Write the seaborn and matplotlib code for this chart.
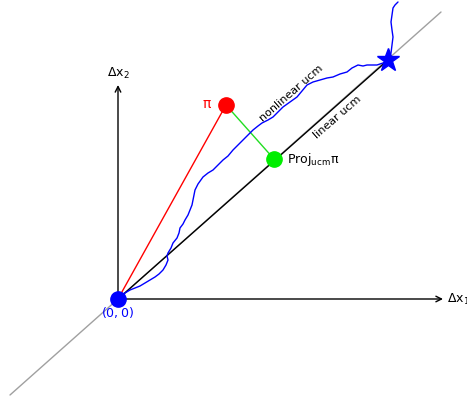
import matplotlib
matplotlib.use("Agg")
import matplotlib.pyplot as plt
import seaborn as sns
import pandas as pd

sns.set_style("white")
plt.rcParams['font.family'] = ['DejaVu Sans']
plt.rcParams['text.color'] = 'black'

# ---- data ----
origin = [0.0, 0.0]
pi_point = [1.08, 1.94]
proj_point = [1.56, 1.40]
star_point = [2.70, 2.39]
ucm_line_x = [-1.08, 3.23]
ucm_line_y = [-0.96, 2.87]

walk_x = [0, 0.04, 0.07, 0.12, 0.17, 0.22, 0.27, 0.32, 0.37, 0.41, 0.45, 0.48, 0.50, 0.49, 0.50,
          0.53, 0.55, 0.59, 0.61, 0.62, 0.65, 0.67, 0.70, 0.72, 0.74, 0.75, 0.76, 0.77, 0.80, 0.85,
          0.90, 0.95, 1.00, 1.05, 1.10, 1.15, 1.20, 1.25, 1.30, 1.35, 1.40, 1.44, 1.50, 1.55, 1.60,
          1.65, 1.72, 1.79, 1.84, 1.89, 1.95, 2.02, 2.09, 2.15, 2.22, 2.29, 2.34, 2.40, 2.45, 2.49,
          2.54, 2.59, 2.65, 2.70, 2.73, 2.74, 2.75, 2.74, 2.73, 2.74, 2.75, 2.77, 2.80]
walk_y = [0, 0.04, 0.06, 0.09, 0.11, 0.13, 0.16, 0.19, 0.22, 0.25, 0.29, 0.34, 0.39, 0.43, 0.46,
          0.51, 0.56, 0.61, 0.66, 0.71, 0.75, 0.79, 0.84, 0.89, 0.94, 0.99, 1.04, 1.09, 1.15, 1.22,
          1.26, 1.29, 1.34, 1.39, 1.43, 1.49, 1.54, 1.59, 1.64, 1.69, 1.73, 1.76, 1.79, 1.82, 1.87,
          1.92, 1.97, 2.02, 2.08, 2.14, 2.17, 2.19, 2.21, 2.22, 2.25, 2.27, 2.31, 2.34, 2.33, 2.34,
          2.34, 2.34, 2.36, 2.39, 2.46, 2.54, 2.62, 2.69, 2.77, 2.84, 2.91, 2.94, 2.97]

x_axis_end = [3.25, 0.0]
y_axis_end = [0.0, 2.14]

# ---- figure ----
fig = plt.figure(figsize=(4.67, 4.0), dpi=100)
ax = fig.add_axes([0, 0, 1, 1])
ax.set_xlim(-1.18, 3.49)
ax.set_ylim(-1.01, 2.99)
ax.set_axis_off()

# full ucm line (gray)
ax.plot(ucm_line_x, ucm_line_y, color="#a0a0a0", lw=1, zorder=1)
# linear ucm segment
ax.plot([origin[0], star_point[0]], [origin[1], star_point[1]], color="black", lw=1, zorder=2)
# red line to pi
ax.plot([origin[0], pi_point[0]], [origin[1], pi_point[1]], color="red", lw=1, zorder=2)
# green projection line
ax.plot([pi_point[0], proj_point[0]], [pi_point[1], proj_point[1]], color="#22dd22", lw=1, zorder=2)

# nonlinear walk
walk = pd.DataFrame({"x": walk_x, "y": walk_y})
sns.lineplot(data=walk, x="x", y="y", sort=False, estimator=None, color="blue", lw=1, ax=ax, zorder=3)

# axes arrows
ax.annotate("", xy=x_axis_end, xytext=origin,
            arrowprops=dict(arrowstyle="->", color="black", lw=1, shrinkA=0, shrinkB=0), zorder=2)
ax.annotate("", xy=y_axis_end, xytext=origin,
            arrowprops=dict(arrowstyle="->", color="black", lw=1, shrinkA=0, shrinkB=0), zorder=2)

# points
ax.plot(*origin, "o", color="blue", ms=11, zorder=5)
ax.plot(*pi_point, "o", color="red", ms=11, zorder=5)
ax.plot(*proj_point, "o", color="#00ee00", ms=11, zorder=5)
ax.plot(*star_point, "*", color="blue", ms=17, zorder=5)

# labels
fs = 9
ax.text(3.29, 0.0, r"$\Delta\mathrm{x}_1$", fontsize=fs, ha="left", va="center")
ax.text(0.0, 2.26, r"$\Delta\mathrm{x}_2$", fontsize=fs, ha="center", va="center")
ax.text(0.0, -0.14, r"$(0,0)$", fontsize=fs, ha="center", va="center", color="blue")
ax.text(0.93, 1.95, "π", fontsize=fs + 1, ha="right", va="center", color="red")
ax.text(1.69, 1.39, r"$\mathrm{Proj}_{\mathrm{ucm}}\mathrm{π}$", fontsize=fs, ha="left", va="center")
ax.text(1.73, 2.06, "nonlinear ucm", fontsize=8, rotation=41, ha="center", va="center",
        rotation_mode="anchor")
ax.text(2.19, 1.82, "linear ucm", fontsize=8, rotation=41, ha="center", va="center",
        rotation_mode="anchor")

fig.savefig("out.png", dpi=100)
